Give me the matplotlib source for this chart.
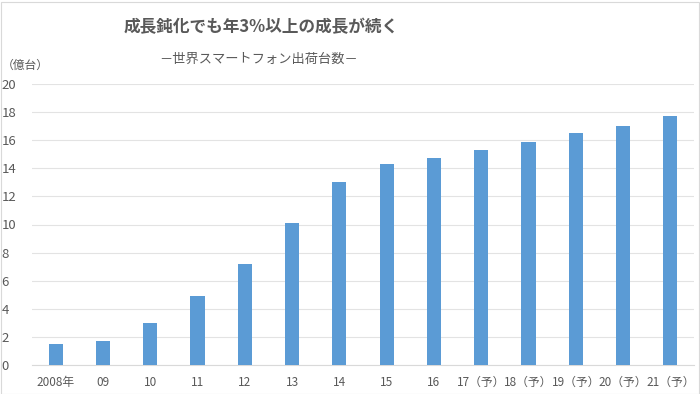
import matplotlib
matplotlib.use("Agg")
import matplotlib.pyplot as plt
from matplotlib.patches import Rectangle

plt.rcParams['font.family'] = ['Noto Sans CJK JP', 'DejaVu Sans']

categories = ["2008年", "09", "10", "11", "12", "13", "14", "15", "16",
              "17（予）", "18（予）", "19（予）", "20（予）", "21（予）"]
values = [1.5, 1.7, 3.0, 4.9, 7.2, 10.1, 13.0, 14.3, 14.7, 15.3, 15.9, 16.5, 17.0, 17.7]
yticks = [0, 2, 4, 6, 8, 10, 12, 14, 16, 18, 20]

title = "成長鈍化でも年3%以上の成長が続く"
subtitle = "－世界スマートフォン出荷台数－"
unit = "（億台）"

gray = "#595959"
fig = plt.figure(figsize=(7, 3.94), dpi=100)
ax = fig.add_axes([32/700, 1-365/394, (694-32)/700, (365-84)/394])

x = range(len(categories))
ax.bar(x, values, width=0.30, color="#5B9BD5", zorder=3)
ax.set_xlim(-0.5, len(categories)-0.5)
ax.set_ylim(0, 20)
ax.set_yticks(yticks)
ax.set_yticklabels([str(t) for t in yticks])
ax.set_xticks(list(x))
ax.set_xticklabels(categories)
ax.grid(axis='y', color="#e3e3e3", linewidth=0.8, zorder=0)
for s in ['top', 'right', 'left']:
    ax.spines[s].set_visible(False)
ax.spines['bottom'].set_color("#d9d9d9")
ax.spines['bottom'].set_linewidth(0.8)
ax.tick_params(axis='y', length=0, colors=gray, labelsize=9.5, pad=22)
ax.tick_params(axis='x', length=0, colors=gray, labelsize=8.5, pad=8)
for lab in ax.get_yticklabels():
    lab.set_horizontalalignment('left')

fig.text(261/700, 1-27/394, title, ha='center', va='center', fontsize=12,
         fontweight='bold', color=gray)
fig.text(259/700, 1-59/394, subtitle, ha='center', va='center', fontsize=9.5,
         color=gray)
fig.text(2/700, 1-65/394, unit, ha='left', va='center', fontsize=8.5, color=gray)

fig.patches.append(Rectangle((0.5/700, 0.5/394), 698/700, 392/394, transform=fig.transFigure,
                             fill=False, edgecolor="#d9d9d9", linewidth=0.8))

fig.savefig("out.png", dpi=100)
